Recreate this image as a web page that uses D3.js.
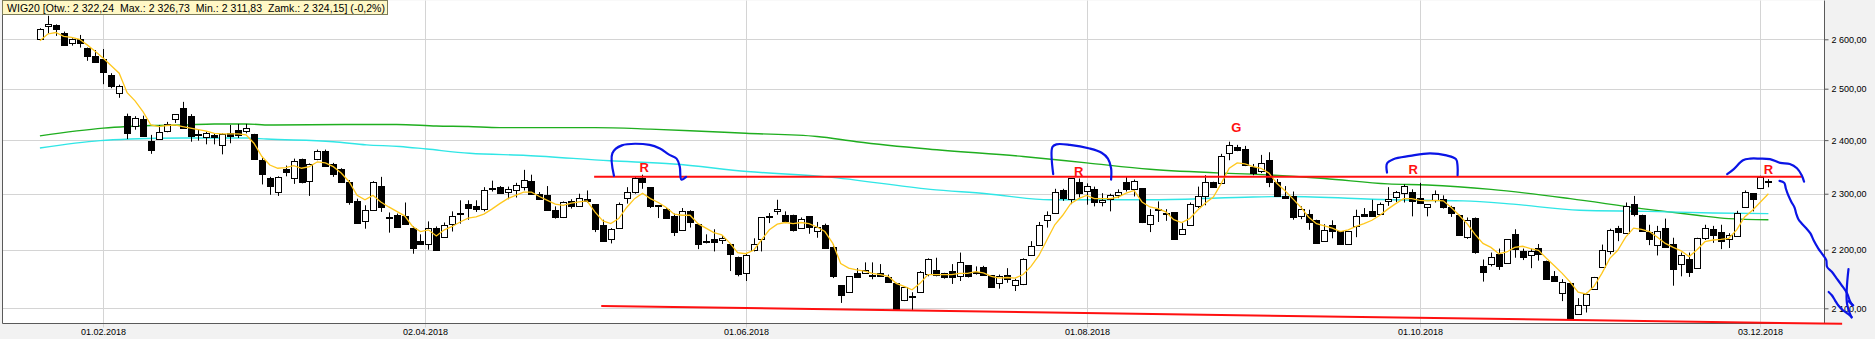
<!DOCTYPE html>
<html>
<head>
<meta charset="utf-8">
<script src="https://cdn.jsdelivr.net/npm/d3@7"></script>
<style>
  body { margin: 0; background: #f2f2f2; }
  svg { display: block; font-family: "Liberation Sans", Arial, sans-serif; }
</style>
</head>
<body>
<svg id="chart" width="1875" height="339"></svg>
<script>
// WIG20 daily candles, 22.01.2018 - 04.12.2018 (one entry per session)
const open = [2600,2628,2630,2614,2592,2601,2582,2565,2559,2527,2492,2446,2427,2441,2399,2402,2417,2440,2462,2446,
  2412,2406,2409,2391,2414,2419,2417,2412,2362,2329,2304,2346,2328,2365,2323,2364,2380,2355,2345,2321,
  2286,2251,2270,2314,2257,2261,2260,2239,2216,2210,2239,2223,2245,2263,2281,2277,2273,2311,2312,2304,
  2306,2313,2324,2300,2297,2270,2258,2287,2278,2290,2281,2244,2218,2238,2293,2304,2329,2312,2279,2272,
  2259,2235,2269,2245,2215,2218,2217,2210,2188,2160,2199,2219,2258,2268,2262,2262,2239,2259,2233,2243,
  2204,2139,2128,2160,2160,2157,2159,2152,2143,2114,2121,2127,2158,2165,2160,2163,2155,2173,2162,2170,
  2156,2143,2156,2139,2141,2191,2209,2252,2265,2307,2291,2322,2305,2309,2285,2291,2297,2322,2308,2310,
  2245,2270,2265,2266,2228,2243,2277,2296,2322,2320,2375,2387,2383,2350,2342,2363,2321,2295,2295,2260,
  2263,2253,2215,2244,2233,2210,2242,2264,2269,2264,2287,2294,2301,2304,2292,2275,2289,2290,2276,2262,
  2222,2256,2172,2176,2192,2177,2227,2197,2190,2203,2181,2154,2126,2142,2091,2106,2132,2170,2198,2238,
  2230,2281,2262,2231,2208,2238,2210,2176,2183,2169,2220,2236,2231,2218,2224,2275,2301,2311,2322.24];
const high = [2623,2649,2631,2616,2602,2609,2583,2578,2580,2531,2508,2451,2446,2447,2410,2429,2435,2450,2474,2450,
  2421,2416,2413,2413,2429,2431,2431,2412,2366,2331,2332,2352,2365,2365,2356,2382,2382,2357,2347,2325,
  2291,2279,2323,2331,2266,2264,2284,2241,2227,2250,2241,2248,2268,2288,2288,2288,2312,2324,2314,2313,
  2320,2344,2335,2303,2314,2277,2286,2290,2300,2306,2281,2253,2238,2284,2312,2331,2335,2312,2279,2274,
  2264,2274,2270,2245,2227,2236,2224,2210,2188,2194,2220,2257,2265,2289,2268,2262,2257,2259,2249,2246,
  2210,2139,2154,2168,2178,2178,2175,2157,2143,2136,2127,2163,2185,2186,2160,2175,2195,2173,2171,2172,
  2156,2157,2168,2150,2185,2215,2249,2268,2309,2309,2328,2328,2319,2313,2301,2300,2308,2331,2326,2310,
  2272,2286,2272,2266,2247,2284,2313,2334,2322,2374,2397,2391,2389,2355,2372,2377,2327,2314,2304,2277,
  2271,2253,2245,2252,2233,2233,2271,2274,2289,2284,2312,2305,2317,2308,2320,2281,2306,2297,2278,2262,
  2257,2257,2183,2195,2202,2218,2236,2202,2202,2210,2181,2163,2149,2142,2117,2126,2153,2209,2237,2242,
  2284,2296,2262,2244,2242,2255,2221,2195,2195,2221,2244,2242,2244,2229,2269,2306,2301,2333,2326.73];
const low = [2599,2612,2607,2588,2587,2583,2556,2553,2509,2501,2482,2402,2420,2407,2374,2402,2415,2433,2423,2397,
  2399,2392,2392,2373,2394,2404,2413,2364,2317,2298,2296,2332,2318,2319,2296,2362,2350,2331,2320,2280,
  2248,2237,2270,2267,2230,2239,2246,2193,2210,2200,2198,2223,2232,2246,2253,2267,2268,2304,2300,2290,
  2293,2306,2299,2289,2271,2255,2256,2273,2278,2284,2231,2214,2211,2238,2282,2300,2309,2274,2256,2255,
  2224,2235,2239,2201,2211,2197,2210,2163,2154,2146,2197,2197,2247,2262,2247,2232,2237,2228,2221,2203,
  2151,2109,2127,2152,2159,2149,2153,2144,2097,2112,2097,2126,2154,2154,2150,2141,2146,2152,2157,2155,
  2136,2133,2143,2129,2139,2189,2209,2239,2265,2287,2281,2293,2280,2277,2277,2268,2292,2304,2295,2247,
  2231,2249,2251,2219,2228,2243,2274,2279,2311,2320,2362,2379,2351,2334,2338,2312,2295,2292,2253,2254,
  2235,2212,2215,2220,2209,2210,2222,2258,2259,2264,2278,2285,2284,2259,2283,2259,2284,2273,2258,2226,
  2219,2193,2145,2171,2165,2177,2186,2182,2168,2181,2150,2146,2112,2082,2091,2093,2132,2170,2192,2215,
  2230,2259,2232,2208,2190,2204,2138,2154,2153,2169,2217,2212,2201,2203,2224,2275,2268,2311,2311.83];
const close = [2621,2631,2621,2589,2600,2593,2565,2553,2534,2505,2506,2413,2442,2407,2382,2415,2431,2450,2424,2407,
  2409,2413,2406,2411,2408,2409,2423,2364,2336,2314,2331,2340,2360,2322,2355,2379,2352,2336,2322,2285,
  2248,2271,2321,2275,2256,2240,2246,2203,2210,2239,2199,2244,2259,2265,2274,2272,2307,2309,2301,2308,
  2316,2325,2299,2291,2271,2258,2285,2277,2292,2287,2236,2216,2237,2282,2303,2328,2321,2277,2278,2256,
  2232,2269,2249,2210,2215,2214,2221,2192,2158,2190,2210,2257,2260,2273,2251,2235,2255,2240,2240,2203,
  2154,2123,2154,2153,2165,2157,2154,2144,2099,2136,2121,2161,2183,2156,2152,2152,2178,2155,2162,2157,
  2136,2155,2149,2147,2183,2206,2243,2261,2304,2292,2328,2301,2315,2285,2289,2297,2304,2308,2324,2249,
  2261,2273,2265,2219,2237,2281,2295,2322,2313,2370,2391,2381,2353,2338,2356,2321,2295,2292,2258,2272,
  2249,2212,2235,2233,2210,2233,2260,2260,2259,2282,2290,2304,2314,2286,2284,2281,2299,2276,2265,2226,
  2253,2196,2161,2187,2172,2218,2201,2188,2197,2193,2150,2146,2145,2083,2105,2124,2153,2199,2235,2231,
  2277,2263,2233,2219,2233,2204,2167,2190,2161,2221,2238,2226,2215,2225,2265,2304,2291,2330,2324.15];

// yellow short moving average, one value per session
const maShort = [2597,2611,2614,2606,2604,2600,2588,2575,2561,2546,2531,2492,2476,2455,2429,2426,2428,2429,2426,2423,
  2420,2417,2413,2412,2412,2412,2410,2394,2369,2353,2347,2348,2352,2347,2350,2359,2357,2350,2338,2322,
  2297,2289,2297,2285,2276,2268,2260,2241,2232,2235,2224,2235,2241,2249,2256,2258,2263,2272,2282,2291,
  2297,2303,2303,2295,2288,2281,2279,2283,2285,2287,2267,2251,2246,2255,2275,2291,2301,2291,2284,2275,
  2263,2261,2261,2246,2238,2230,2226,2212,2195,2193,2199,2217,2235,2245,2248,2246,2248,2246,2240,2232,
  2211,2176,2168,2165,2163,2159,2157,2154,2142,2137,2131,2142,2157,2157,2157,2157,2159,2159,2162,2160,
  2154,2151,2152,2151,2157,2171,2190,2217,2244,2261,2282,2291,2297,2291,2291,2291,2294,2301,2306,2285,
  2276,2273,2267,2253,2248,2255,2270,2283,2294,2319,2347,2357,2355,2350,2347,2338,2319,2306,2291,2276,
  2258,2246,2242,2238,2232,2235,2241,2246,2252,2261,2272,2282,2291,2291,2288,2287,2288,2287,2275,2261,
  2246,2227,2211,2204,2193,2196,2204,2206,2202,2199,2185,2172,2159,2144,2127,2124,2137,2159,2185,2199,
  2222,2238,2236,2232,2222,2211,2204,2198,2188,2200,2214,2217,2218,2220,2235,2258,2270,2285,2300];

// long moving averages, [session index, value]
const maGreen = [[0,2408],[8,2423],[11,2426],[14,2428],[18,2429],[22,2431],[26,2431],[29,2429],[39,2430],[45,2430],
  [50,2427],[54,2426],[58,2424],[70,2424],[77,2421],[82,2418],[89,2413],[98,2407],[103,2397],[112,2383],
  [124,2369],[132,2357],[140,2345],[149,2338],[153,2336],[162,2328],[170,2318],[175,2316],[183,2308],
  [193,2291],[202,2273],[209,2261],[213,2255],[218,2253]];
const maCyan = [[0,2385],[7.6,2399],[11.4,2402],[18.1,2404],[26.1,2404],[28.6,2402],[37,2397],[41.2,2391],
  [45.4,2388],[48.8,2383],[54.2,2375],[61.4,2371],[71.9,2361],[79.9,2355],[89.2,2341],[99.3,2331],
  [112.3,2308],[119.4,2300],[127.4,2289],[140.4,2289],[153,2294],[157.3,2295],[170.3,2289],[179.5,2287],
  [185.8,2281],[194.2,2270],[202.7,2268],[211,2265],[218,2264]];

const yTicks = [2100, 2200, 2300, 2400, 2500, 2600];
const xTicks = [[8, "01.02.2018"], [48.6, "02.04.2018"], [89.1, "01.06.2018"],
  [132, "01.08.2018"], [174, "01.10.2018"], [217, "03.12.2018"]];

// hand drawn marks, [session index, price]
const resistance = [[69.9, 2331], [222.2, 2331]];
const support = [[70.8, 2103.8], [227.3, 2074.2]];
const blueStrokes = [
  [[72.4,2333],[72.2,2375],[73.4,2390],[76.9,2391],[78.2,2384],[79.3,2373],[80.3,2365],[80.7,2350],[80.9,2326],[81.5,2331]],
  [[127.8,2336],[127.7,2387],[128.2,2392],[129.9,2391],[132.4,2384],[133.9,2376],[134.7,2365],[135.1,2347],[135.1,2326]],
  [[169.9,2339],[169.9,2356],[170.7,2364],[172.8,2370],[175.3,2375],[177.4,2371],[178.6,2364],[178.8,2350],[178.8,2334]],
  [[212.8,2336],[213.6,2345],[214.8,2362],[215.7,2365],[216.9,2365],[218.2,2364],[219.5,2357],[220.7,2355],[221.6,2347],[222.2,2334],[222.5,2322]],
  [[219.4,2323.6],[220.0,2319.9],[220.2,2309.6],[220.5,2297.3],[220.9,2285.1],[221.3,2274.9],[221.5,2264.2],[221.8,2253.4],
   [222.2,2246.3],[222.8,2237.3],[223.3,2228.6],[223.7,2216.6],[224.3,2202.0],[224.9,2190.4],[225.3,2181.7],[225.4,2170.2],
   [226.0,2161.7],[226.6,2150.6],[227.2,2139.5],[227.9,2125.7],[228.3,2111.9],[228.6,2104.9]],
  [[225.6,2127.3],[226.0,2121.8],[226.4,2113.4],[226.8,2105.1],[227.4,2096.7],[228.1,2090.1],[228.5,2085.6]],
  [[228.1,2166.2],[227.9,2109.2],[228.5,2084.6]],
  [[228.1,2111.9],[228.7,2105]]
];
const letters = [["R", 76.2, 2348.5], ["R", 131.0, 2341.5], ["G", 150.9, 2424.3], ["R", 173.2, 2345.3], ["R", 218.0, 2345.3]];
const title = "WIG20 [Otw.: 2 322,24  Max.: 2 326,73  Min.: 2 311,83  Zamk.: 2 324,15] (-0,2%)";

const svg = d3.select("#chart");
const plot = { left: 2.5, right: 1824.5, top: 0.5, bottom: 323.5 };

const x = d3.scaleLinear().domain([0, 218]).range([39.9, 1768.4]);
const y = d3.scaleLog().domain([2100, 2600]).range([308.3, 39.3]);
const pl = d3.formatLocale({ decimal: ",", thousands: " ", grouping: [3], currency: ["", ""] });
const fmt = pl.format(",.2f");

svg.append("rect").attr("width", 1875).attr("height", 339).attr("fill", "#f2f2f2");
svg.append("rect")
  .attr("x", plot.left).attr("y", plot.top)
  .attr("width", plot.right - plot.left).attr("height", plot.bottom - plot.top)
  .attr("fill", "#fff");

// grid
const grid = svg.append("g").attr("stroke", "#d4d4d4").attr("stroke-width", 1);
yTicks.forEach(v => {
  const yy = Math.round(y(v)) + 0.5;
  grid.append("line").attr("x1", plot.left).attr("x2", plot.right).attr("y1", yy).attr("y2", yy);
});
xTicks.forEach(t => {
  const xx = Math.round(x(t[0])) + 0.5;
  grid.append("line").attr("x1", xx).attr("x2", xx).attr("y1", plot.top).attr("y2", plot.bottom + 4);
});

const line = d3.line().x(d => x(d[0])).y(d => y(d[1]));

svg.append("path").datum(maGreen)
  .attr("d", line.curve(d3.curveMonotoneX))
  .attr("fill", "none").attr("stroke", "#1fae1f").attr("stroke-width", 1.4);
svg.append("path").datum(maCyan)
  .attr("d", line.curve(d3.curveMonotoneX))
  .attr("fill", "none").attr("stroke", "#30e6e6").attr("stroke-width", 1.4);

// candles
const candles = svg.append("g");
open.forEach((o, i) => {
  const c = close[i];
  const cx = Math.round(x(i)) + 0.5;
  candles.append("line")
    .attr("x1", cx).attr("x2", cx)
    .attr("y1", y(high[i])).attr("y2", y(low[i]))
    .attr("stroke", "#000").attr("stroke-width", 1);
  const top = Math.round(y(Math.max(o, c))) + 0.5;
  const bot = Math.round(y(Math.min(o, c))) + 0.5;
  candles.append("rect")
    .attr("x", cx - 3).attr("y", top)
    .attr("width", 6).attr("height", Math.max(1, bot - top))
    .attr("fill", c >= o ? "#fff" : "#000")
    .attr("stroke", "#000").attr("stroke-width", 1);
});

svg.append("path").datum(maShort.map((v, i) => [i, v]))
  .attr("d", line.curve(d3.curveLinear))
  .attr("fill", "none").attr("stroke", "#ffc81e").attr("stroke-width", 1.3);

// frame and axes
const frame = svg.append("g").attr("stroke", "#5a5a5a").attr("stroke-width", 1).attr("fill", "none");
frame.append("path").attr("d", `M${plot.left},${plot.top}V${plot.bottom}H${plot.right}V${plot.top}`);

const yAxis = svg.append("g").attr("transform", `translate(${plot.right},0)`)
  .call(d3.axisRight(y).tickValues(yTicks).tickFormat(fmt).tickSize(4).tickPadding(3));
yAxis.select(".domain").remove();
yAxis.selectAll("line").attr("stroke", "#5a5a5a");
yAxis.selectAll("text").attr("font-size", 9).attr("fill", "#000").attr("font-family", "Liberation Sans, Arial, sans-serif");

svg.append("g").selectAll("text").data(xTicks).join("text")
  .attr("x", d => Math.round(x(d[0])) + 0.5).attr("y", 335)
  .attr("text-anchor", "middle").attr("font-size", 9).attr("fill", "#000")
  .text(d => d[1]);

// hand drawn analysis
svg.append("path").datum(resistance).attr("d", line.curve(d3.curveLinear))
  .attr("stroke", "#ff1010").attr("stroke-width", 2).attr("fill", "none");
svg.append("path").datum(support).attr("d", line.curve(d3.curveLinear))
  .attr("stroke", "#ff1010").attr("stroke-width", 2).attr("fill", "none");

svg.append("g").selectAll("path").data(blueStrokes).join("path")
  .attr("d", line.curve(d3.curveCatmullRom))
  .attr("fill", "none").attr("stroke", "#0a14e6").attr("stroke-width", 2.2)
  .attr("stroke-linecap", "round").attr("stroke-linejoin", "round");

svg.append("g").selectAll("text").data(letters).join("text")
  .attr("x", d => x(d[1])).attr("y", d => y(d[2]))
  .attr("text-anchor", "middle").attr("dominant-baseline", "central")
  .attr("font-size", 13).attr("font-weight", "bold").attr("fill", "#ff1010")
  .text(d => d[0]);

// info box
const info = svg.append("g");
info.append("rect")
  .attr("x", 2.5).attr("y", 0.5).attr("width", 385).attr("height", 14)
  .attr("fill", "#fff8c6").attr("stroke", "#7d7d5a").attr("stroke-width", 1);
info.append("text").attr("x", 7).attr("y", 11.5)
  .attr("font-size", 10.5).attr("fill", "#000").attr("xml:space", "preserve")
  .attr("textLength", 378).attr("lengthAdjust", "spacing")
  .style("white-space", "pre").text(title);
</script>
</body>
</html>
